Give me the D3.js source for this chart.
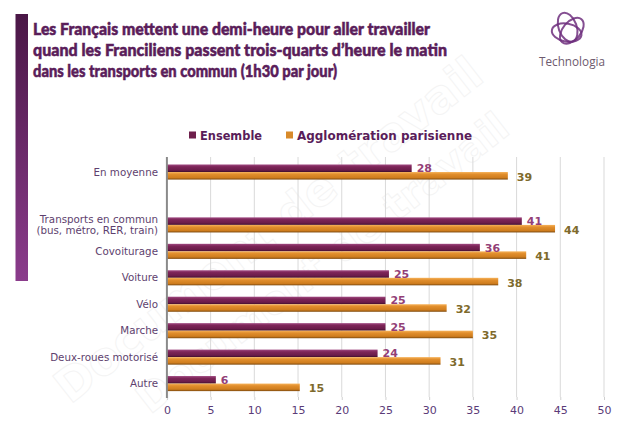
<!DOCTYPE html>
<html><head><meta charset="utf-8">
<script src="https://cdn.jsdelivr.net/npm/d3@7"></script>
<style>body{margin:0;background:#fff}svg{display:block}</style>
</head><body>
<script>
const categories = ["En moyenne", "", "Transports en commun|(bus, métro, RER, train)", "Covoiturage", "Voiture", "Vélo", "Marche", "Deux-roues motorisé", "Autre"];
const ensemble = [28, null, 40.6, 35.8, 25.4, 25, 25, 24.1, 5.6];
const agglomeration = [39, null, 44.4, 41.1, 37.9, 32, 35, 31.3, 15.2];
const seriesNames = ["Ensemble", "Agglomération parisienne"];
const xTicks = [0, 5, 10, 15, 20, 25, 30, 35, 40, 45, 50];
const titleLines = ["Les Français mettent une demi-heure pour aller travailler",
  "quand les Franciliens passent trois-quarts d’heure le matin",
  "dans les transports en commun (1h30 par jour)"];

const W = 621, H = 432;
const svg = d3.select("body").append("svg").attr("width", W).attr("height", H);
const defs = svg.append("defs");

function grad(id, stops) {
  const g = defs.append("linearGradient").attr("id", id).attr("x1", 0).attr("y1", 0).attr("x2", 0).attr("y2", 1);
  stops.forEach(s => g.append("stop").attr("offset", s[0]).attr("stop-color", s[1]));
}
grad("gEns", [[0, "#a04a82"], [0.3, "#7d2558"], [0.75, "#6a1c4a"], [1, "#3e0e2c"]]);
grad("gAgg", [[0, "#f6b25a"], [0.3, "#e18e2c"], [0.75, "#cf7d1e"], [1, "#7e4a0e"]]);
grad("gSide", [[0, "#4a1746"], [1, "#8b3c8c"]]);

// watermark (faint)
const wm = svg.append("g").attr("opacity", 0.22);
[[70, 405, 46], [150, 415, 40]].forEach(p => {
  wm.append("text").attr("transform", `translate(${p[0]},${p[1]}) rotate(-38)`).text("Document de travail")
    .attr("font-family", "'DejaVu Sans', sans-serif").attr("font-weight", 700).attr("font-size", p[2])
    .attr("fill", "none").attr("stroke", "#cfcfcf").attr("stroke-width", 1);
});

// side bar
svg.append("rect").attr("x", 15.5).attr("y", 14).attr("width", 12.5).attr("height", 267).attr("fill", "url(#gSide)");

// title
const tfont = "'Lato', 'DejaVu Sans', sans-serif";
const tWidths = [397, 414, 304];
const tBase = [35, 56, 77];
titleLines.forEach((t, i) => {
  svg.append("text").attr("x", 33).attr("y", tBase[i]).text(t)
    .attr("font-family", tfont).attr("font-weight", 900).attr("font-size", 17.5)
    .attr("fill", "#5a1d5a").attr("stroke", "#5a1d5a").attr("stroke-width", 0.55)
    .attr("textLength", tWidths[i]).attr("lengthAdjust", "spacingAndGlyphs");
});

// logo
const logo = svg.append("g").attr("transform", "translate(569,31)");
[[-20, 0, -4], [100, 2, 2], [220, -2, 2]].forEach(a => {
  logo.append("ellipse").attr("cx", a[1]).attr("cy", a[2]).attr("rx", 9).attr("ry", 15)
    .attr("transform", `rotate(${a[0]})`)
    .attr("fill", "none").attr("stroke", "#6f2f7e").attr("stroke-width", 2).attr("opacity", 0.85);
});
svg.append("text").attr("x", 572).attr("y", 66).attr("text-anchor", "middle").text("Technologia")
  .attr("font-family", "'Open Sans', sans-serif").attr("font-size", 12.5).attr("fill", "#6e5a6e")
  .attr("textLength", 66).attr("lengthAdjust", "spacingAndGlyphs");

// scales
const x = d3.scaleLinear().domain([0, 50]).range([166.9, 604]);
const y = d3.scaleBand().domain(d3.range(categories.length)).range([158.8, 396.8]).paddingInner(0.43).paddingOuter(0.215);
const bh = y.bandwidth() / 2;

const vfont = "'DejaVu Sans', Verdana, sans-serif";

// gridlines
svg.append("g").selectAll("line").data(xTicks.slice(1)).join("line")
  .attr("x1", d => x(d)).attr("x2", d => x(d)).attr("y1", 157).attr("y2", 397)
  .attr("stroke", "#d9d9d9").attr("stroke-width", 1);

// x axis
const xAxis = svg.append("g").attr("transform", "translate(0,397)")
  .call(d3.axisBottom(x).tickValues(xTicks).tickSize(3).tickPadding(6));
xAxis.select(".domain").remove();
xAxis.selectAll(".tick line").attr("stroke", "#d0d0d0");
xAxis.selectAll("text").attr("font-family", vfont).attr("font-size", 11).attr("fill", "#5b3b78");

// bars
const rows = categories.map((c, i) => ({ i, c, e: ensemble[i], a: agglomeration[i] })).filter(d => d.e != null);
const g = svg.append("g");
g.selectAll("rect.e").data(rows).join("rect").attr("class", "e")
  .attr("x", x(0)).attr("y", d => y(d.i)).attr("width", d => x(d.e) - x(0)).attr("height", bh)
  .attr("fill", "url(#gEns)");
g.selectAll("rect.a").data(rows).join("rect").attr("class", "a")
  .attr("x", x(0)).attr("y", d => y(d.i) + bh).attr("width", d => x(d.a) - x(0)).attr("height", bh)
  .attr("fill", "url(#gAgg)");

// value labels
g.selectAll("text.e").data(rows).join("text").attr("class", "e")
  .attr("x", d => x(d.e) + 5).attr("y", d => y(d.i) + bh / 2).attr("dy", "0.36em")
  .text(d => Math.round(d.e)).attr("font-family", vfont).attr("font-weight", 700).attr("font-size", 11)
  .attr("fill", "#933f77");
g.selectAll("text.a").data(rows).join("text").attr("class", "a")
  .attr("x", d => x(d.a) + 9).attr("y", d => y(d.i) + bh * 1.5 + 1).attr("dy", "0.36em")
  .text(d => Math.round(d.a)).attr("font-family", vfont).attr("font-weight", 700).attr("font-size", 11)
  .attr("fill", "#7e6a2c");

// y axis line
svg.append("line").attr("x1", x(0)).attr("x2", x(0)).attr("y1", 157).attr("y2", 398)
  .attr("stroke", "#8a8a8a").attr("stroke-width", 2);

// category labels
categories.forEach((c, i) => {
  if (!c) return;
  const parts = c.split("|");
  const cy = y(i) + y.bandwidth() / 2;
  parts.forEach((p, k) => {
    svg.append("text").attr("x", 158).attr("y", cy + (k - (parts.length - 1) / 2) * 11.5).attr("dy", "0.35em")
      .attr("text-anchor", "end").text(p)
      .attr("font-family", vfont).attr("font-size", 10.3).attr("fill", "#5e3f6e");
  });
});

// legend
const leg = svg.append("g");
const legX = [189, 286], legW = [62, 175];
seriesNames.forEach((n, i) => {
  leg.append("rect").attr("x", legX[i]).attr("y", 131.5).attr("width", 7).attr("height", 7)
    .attr("fill", i === 0 ? "#6e1f4c" : "#d88a2a");
  leg.append("text").attr("x", legX[i] + 11).attr("y", 135).attr("dy", "0.36em").text(n)
    .attr("font-family", vfont).attr("font-weight", 700).attr("font-size", 12.5).attr("fill", "#5a1d5a")
    .attr("textLength", legW[i]).attr("lengthAdjust", "spacingAndGlyphs");
});
</script>
</body></html>
